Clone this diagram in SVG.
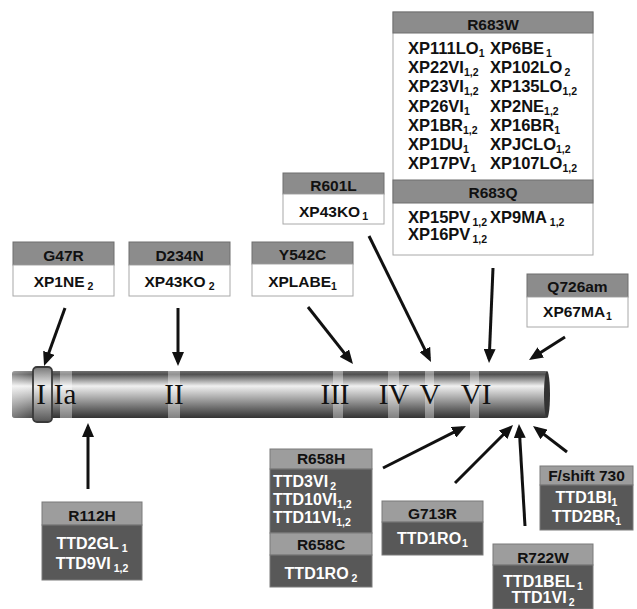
<svg xmlns="http://www.w3.org/2000/svg" width="637" height="609" viewBox="0 0 637 609">
<style>
.hx{fill:#8c8c8c;stroke:#6e6e6e;stroke-width:1}
.bx{fill:#fff;stroke:#a8a8a8;stroke-width:1}
.ht{fill:#9d9d9d;stroke:#7a7a7a;stroke-width:1}
.bt{fill:#585858;stroke:#7a7a7a;stroke-width:1}
text{font-family:"Liberation Sans",Arial,sans-serif;font-weight:bold;font-size:15.5px;fill:#111}
.c{text-anchor:middle}
.big{font-size:16.5px}
.tt{font-size:16px;fill:#fff}
.s{font-size:10.5px}
.rn{font-family:"Liberation Serif","Times New Roman",serif;font-weight:normal;font-size:29px;fill:#111;text-anchor:middle}
.arr{stroke:#111;stroke-width:3;fill:none;marker-end:url(#ah)}
.band{fill:#fff;opacity:0.38}
</style>
<defs>
<marker id="ah" markerUnits="userSpaceOnUse" markerWidth="14" markerHeight="12" refX="10" refY="6" orient="auto">
<path d="M0,0 L14,6 L0,12 z" fill="#111"/>
</marker>
<linearGradient id="cyl" gradientUnits="userSpaceOnUse" x1="0" y1="371" x2="0" y2="418">
<stop offset="0" stop-color="#707070"/>
<stop offset="0.07" stop-color="#505050"/>
<stop offset="0.32" stop-color="#f0f0f0"/>
<stop offset="0.55" stop-color="#b0b0b0"/>
<stop offset="0.8" stop-color="#686868"/>
<stop offset="1" stop-color="#333333"/>
</linearGradient>
<linearGradient id="ring" gradientUnits="userSpaceOnUse" x1="0" y1="367" x2="0" y2="422">
<stop offset="0" stop-color="#777777"/>
<stop offset="0.35" stop-color="#eeeeee"/>
<stop offset="0.7" stop-color="#999999"/>
<stop offset="1" stop-color="#555555"/>
</linearGradient>
<linearGradient id="lend" gradientUnits="userSpaceOnUse" x1="12" y1="0" x2="42" y2="0">
<stop offset="0" stop-color="#ffffff" stop-opacity="0.35"/>
<stop offset="1" stop-color="#ffffff" stop-opacity="0"/>
</linearGradient>
</defs>
<rect width="637" height="609" fill="#fff"/>

<g id="cylinder">
<rect x="12" y="371" width="536" height="47" rx="3" fill="url(#cyl)"/>
<rect x="12" y="371" width="30" height="47" rx="3" fill="url(#lend)"/>
<ellipse cx="547" cy="394.5" rx="3" ry="23.5" fill="#333"/>
<rect class="band" x="60" y="371" width="12" height="47"/>
<rect class="band" x="168" y="371" width="12" height="47"/>
<rect class="band" x="333" y="371" width="10" height="47"/>
<rect class="band" x="388" y="371" width="11" height="47"/>
<rect class="band" x="425" y="371" width="9" height="47"/>
<rect class="band" x="470" y="371" width="9" height="47"/>
<rect x="33" y="367" width="19" height="55" rx="4" fill="url(#ring)" stroke="#3a3a3a" stroke-width="1.8"/>
<text class="rn" x="41" y="404">I</text>
<text class="rn" x="65" y="404">Ia</text>
<text class="rn" x="174" y="404">II</text>
<text class="rn" x="335" y="404">III</text>
<text class="rn" x="394" y="404">IV</text>
<text class="rn" x="430" y="404">V</text>
<text class="rn" x="476" y="404">VI</text>
</g>

<g id="connectors">
<line class="arr" x1="65" y1="308" x2="45.4" y2="362.2"/>
<line class="arr" x1="178" y1="308" x2="178" y2="362"/>
<line class="arr" x1="308" y1="307" x2="350.5" y2="360.9"/>
<line class="arr" x1="369" y1="236" x2="429.2" y2="358.4"/>
<line class="arr" x1="493" y1="268" x2="489.2" y2="359"/>
<line class="arr" x1="565" y1="337" x2="532.4" y2="357.8"/>
<line class="arr" x1="88" y1="489" x2="88" y2="427"/>
<line class="arr" x1="383" y1="468" x2="462.4" y2="427.8"/>
<line class="arr" x1="455" y1="483" x2="510.2" y2="427.8"/>
<line class="arr" x1="525" y1="526" x2="519.2" y2="428"/>
<line class="arr" x1="567" y1="452" x2="536.2" y2="428.4"/>
</g>

<g id="g47r">
<rect class="hx" x="13" y="242" width="101" height="23"/>
<rect class="bx" x="13" y="265" width="101" height="31"/>
<text class="c" x="63.5" y="260.5">G47R</text>
<text class="c" x="63.5" y="287">XP1NE<tspan class="s" dx="3" dy="3">2</tspan></text>
</g>

<g id="d234n">
<rect class="hx" x="129" y="242" width="101" height="23"/>
<rect class="bx" x="129" y="265" width="101" height="31"/>
<text class="c" x="179.5" y="260.5">D234N</text>
<text class="c" x="179.5" y="287">XP43KO<tspan class="s" dx="3" dy="3">2</tspan></text>
</g>

<g id="y542c">
<rect class="hx" x="252" y="242" width="101" height="22"/>
<rect class="bx" x="252" y="264" width="101" height="32"/>
<text class="c" x="302.5" y="260">Y542C</text>
<text class="c" x="302.5" y="287">XPLABE<tspan class="s" dy="3">1</tspan></text>
</g>

<g id="r601l">
<rect class="hx" x="283" y="173" width="101" height="21"/>
<rect class="bx" x="283" y="194" width="101" height="30"/>
<text class="c" x="333.5" y="191">R601L</text>
<text class="c" x="333.5" y="217">XP43KO<tspan class="s" dx="2" dy="3">1</tspan></text>
</g>

<g id="r683">
<rect class="bx" x="393" y="12" width="200" height="243"/>
<rect class="hx" x="393" y="12" width="200" height="21" stroke="#555"/>
<rect class="hx" x="393" y="180" width="200" height="23" stroke="#555"/>
<text class="c" x="493" y="30">R683W</text>
<text class="big" x="408" y="54">XP111LO<tspan class="s" dy="3">1</tspan></text>
<text class="big" x="490" y="54">XP6BE<tspan class="s" dx="2" dy="3">1</tspan></text>
<text class="big" x="408" y="73">XP22VI<tspan class="s" dy="3">1,2</tspan></text>
<text class="big" x="490" y="73">XP102LO<tspan class="s" dx="2" dy="3">2</tspan></text>
<text class="big" x="408" y="92">XP23VI<tspan class="s" dy="3">1,2</tspan></text>
<text class="big" x="490" y="92">XP135LO<tspan class="s" dy="3">1,2</tspan></text>
<text class="big" x="408" y="112">XP26VI<tspan class="s" dy="3">1</tspan></text>
<text class="big" x="490" y="112">XP2NE<tspan class="s" dy="3">1,2</tspan></text>
<text class="big" x="408" y="131">XP1BR<tspan class="s" dy="3">1,2</tspan></text>
<text class="big" x="490" y="131">XP16BR<tspan class="s" dy="3">1</tspan></text>
<text class="big" x="408" y="150">XP1DU<tspan class="s" dy="3">1</tspan></text>
<text class="big" x="490" y="150">XPJCLO<tspan class="s" dy="3">1,2</tspan></text>
<text class="big" x="408" y="169">XP17PV<tspan class="s" dy="3">1</tspan></text>
<text class="big" x="490" y="169">XP107LO<tspan class="s" dy="3">1,2</tspan></text>
<text class="c" x="493" y="198">R683Q</text>
<text class="big" x="408" y="223">XP15PV<tspan class="s" dx="2" dy="3">1,2</tspan></text>
<text class="big" x="490" y="223">XP9MA<tspan class="s" dx="3" dy="3">1,2</tspan></text>
<text class="big" x="408" y="240">XP16PV<tspan class="s" dx="2" dy="3">1,2</tspan></text>
</g>

<g id="q726am">
<rect class="hx" x="527" y="274" width="101" height="23"/>
<rect class="bx" x="527" y="297" width="101" height="30"/>
<text class="c" x="577.5" y="292">Q726am</text>
<text class="c" x="577.5" y="317">XP67MA<tspan class="s" dx="1" dy="3">1</tspan></text>
</g>

<g id="r112h">
<rect class="ht" x="42" y="502" width="100" height="23"/>
<rect class="bt" x="42" y="525" width="100" height="55"/>
<text class="c" x="92" y="521">R112H</text>
<text class="c tt" x="92" y="549">TTD2GL<tspan class="s" dx="3" dy="3">1</tspan></text>
<text class="c tt" x="92" y="569">TTD9VI<tspan class="s" dx="3" dy="3">1,2</tspan></text>
</g>

<g id="r658">
<rect class="ht" x="270" y="449" width="102" height="20"/>
<rect class="bt" x="270" y="469" width="102" height="64"/>
<rect class="ht" x="270" y="533" width="102" height="22"/>
<rect class="bt" x="270" y="555" width="102" height="32"/>
<text class="c" x="321" y="464">R658H</text>
<text class="tt" x="273" y="487">TTD3VI<tspan class="s" dx="2" dy="3">2</tspan></text>
<text class="tt" x="273" y="505">TTD10VI<tspan class="s" dy="3">1,2</tspan></text>
<text class="tt" x="273" y="523">TTD11VI<tspan class="s" dy="3">1,2</tspan></text>
<text class="c" x="321" y="550">R658C</text>
<text class="c tt" x="321" y="579">TTD1RO<tspan class="s" dx="3" dy="3">2</tspan></text>
</g>

<g id="g713r">
<rect class="ht" x="382" y="501" width="101" height="21"/>
<rect class="bt" x="382" y="522" width="101" height="33"/>
<text class="c" x="432.5" y="519">G713R</text>
<text class="c tt" x="432.5" y="544">TTD1RO<tspan class="s" dx="1" dy="3">1</tspan></text>
</g>

<g id="r722w">
<rect class="ht" x="493" y="544" width="100" height="21"/>
<rect class="bt" x="493" y="565" width="100" height="44"/>
<text class="c" x="543" y="563">R722W</text>
<text class="c tt" x="543" y="587">TTD1BEL<tspan class="s" dx="2" dy="3">1</tspan></text>
<text class="c tt" x="543" y="603">TTD1VI<tspan class="s" dx="2" dy="3">2</tspan></text>
</g>

<g id="fshift730">
<rect class="ht" x="540" y="466" width="93" height="19"/>
<rect class="bt" x="540" y="485" width="93" height="45"/>
<text class="c" x="586.5" y="481">F/shift 730</text>
<text class="c tt" x="586.5" y="503">TTD1BI<tspan class="s" dy="3">1</tspan></text>
<text class="c tt" x="586.5" y="522">TTD2BR<tspan class="s" dy="3">1</tspan></text>
</g>
</svg>
